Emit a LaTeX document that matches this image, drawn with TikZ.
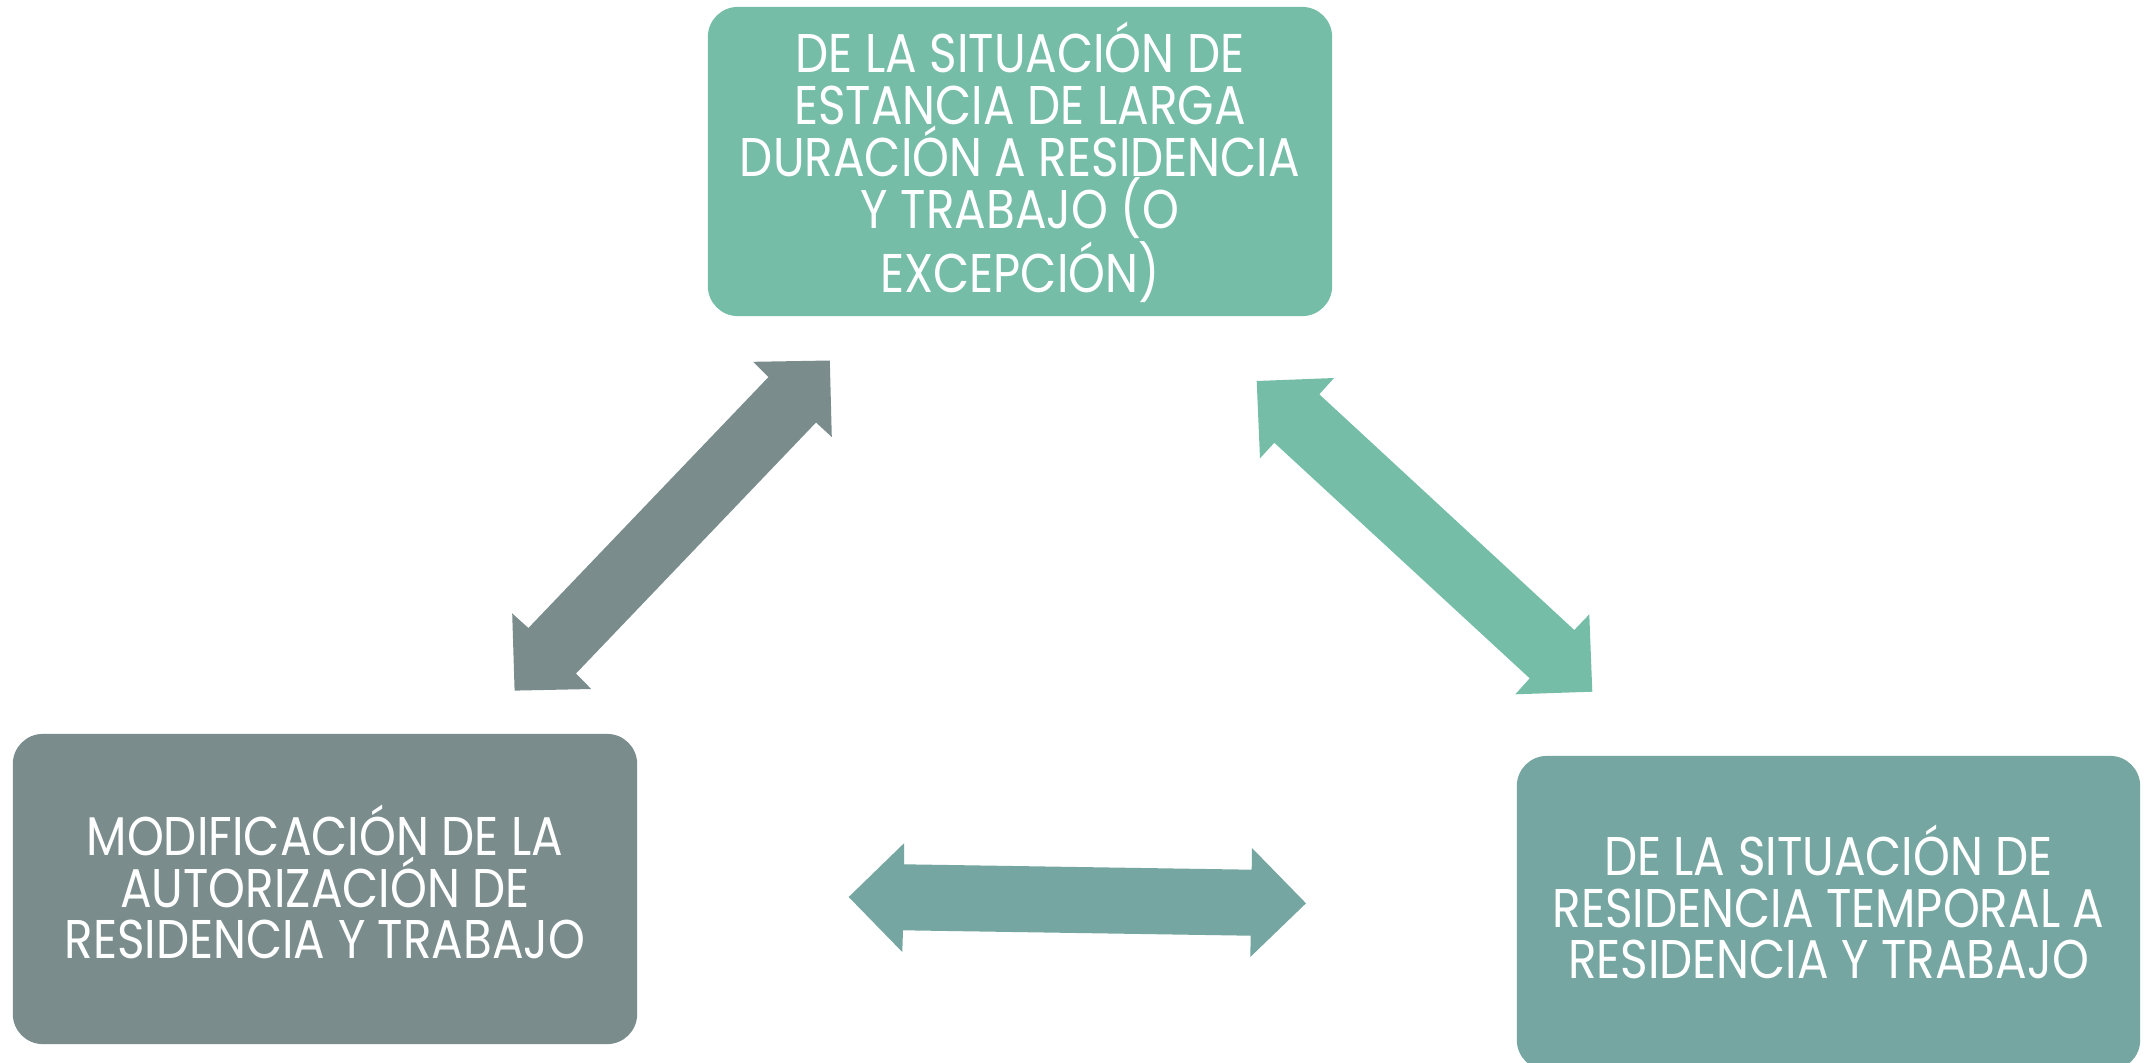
\documentclass[tikz,border=0pt]{standalone}
\usepackage{fontspec}
\setmainfont{Poppins}[FakeStretch=0.86]
\definecolor{cgreen}{HTML}{76BDA8}
\definecolor{cgray}{HTML}{7B8C8C}
\definecolor{cteal}{HTML}{76A6A1}
\begin{document}
\begin{tikzpicture}[x=0.01cm,y=-0.01cm,
  box/.style={rounded corners=0.3cm,inner sep=0pt},
  boxtext/.style={inner sep=0pt,align=center,text=white,
    font=\fontsize{15.5}{14.75}\selectfont}]
\useasboundingbox (0,0) rectangle (2147,1063);
\fill[white] (0,0) rectangle (2147,1063);
% boxes
\node[box,fill=cgreen,minimum width=6.24cm,minimum height=3.09cm] (top) at (1020,161.5) {};
\node[box,fill=cgray,minimum width=6.24cm,minimum height=3.10cm] (left) at (325,889) {};
\node[box,fill=cteal,minimum width=6.23cm,minimum height=3.14cm] (right) at (1828.5,913) {};
\node[boxtext,yshift=-0.01cm] (toptext) at (top.center)
  {DE LA SITUACIÓN DE\\ESTANCIA DE LARGA\\DURACIÓN A RESIDENCIA\\Y TRABAJO (O\\EXCEPCIÓN)};
\node[boxtext,yshift=0.07cm] (lefttext) at (left.center)
  {MODIFICACIÓN DE LA\\AUTORIZACIÓN DE\\RESIDENCIA Y TRABAJO};
\node[boxtext,yshift=0.11cm] (righttext) at (right.center)
  {DE LA SITUACIÓN DE\\RESIDENCIA TEMPORAL A\\RESIDENCIA Y TRABAJO};
% left diagonal arrow (gray)
\fill[cgray] (829.8,360.5) -- (831.8,437) -- (816,422.5) -- (576,673.5) -- (591.2,689)
  -- (514.6,690.6) -- (512.2,613.4) -- (528.4,628) -- (768.5,377) -- (753.2,361.8) -- cycle;
% right diagonal arrow (green)
\fill[cgreen] (1256.7,381) -- (1334,378) -- (1319.3,394.3) -- (1574.3,630) -- (1589.3,614.3)
  -- (1592.3,691.7) -- (1515.3,694.3) -- (1529.7,678.3) -- (1274.3,442.7) -- (1260,458.3) -- cycle;
% horizontal arrow (teal)
\fill[cteal] (848.7,897) -- (904,843.3) -- (904,864.3) -- (1251.7,869.7) -- (1252,848)
  -- (1306,903.3) -- (1250.3,957) -- (1250.7,935.7) -- (903,930.3) -- (902.3,952) -- cycle;
\end{tikzpicture}
\end{document}
